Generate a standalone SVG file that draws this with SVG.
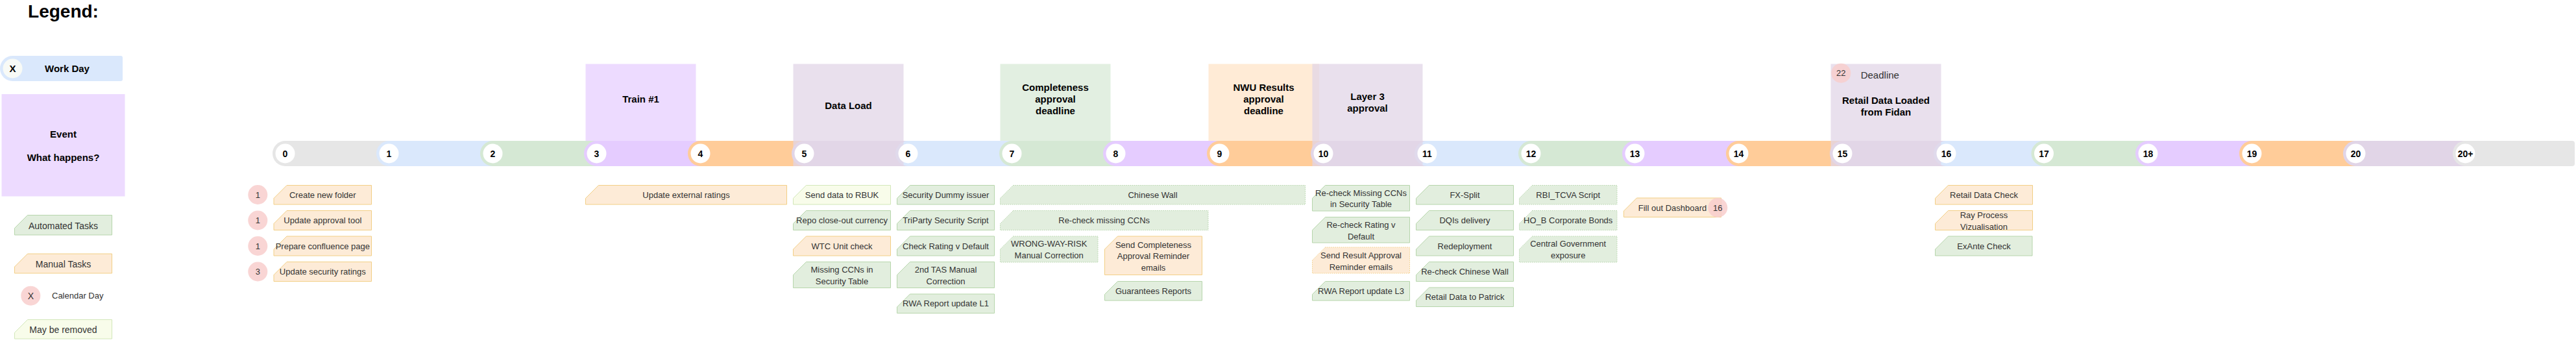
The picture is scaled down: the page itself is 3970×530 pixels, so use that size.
<svg xmlns="http://www.w3.org/2000/svg" width="3970" height="530" viewBox="0 0 3970 530">
<style>
text{font-family:"Liberation Sans",Arial,Helvetica,sans-serif}
.bg{fill:#ffffff}
.g{fill:#E2EEDE;stroke:#B7D6AC;stroke-width:1}
.o{fill:#FDEBD7;stroke:#F2CF86;stroke-width:1}
.y{fill:#F8FCEA;stroke:#D2E7B9;stroke-width:1}
.dot{stroke-dasharray:1.5 1.5}
.t{font-size:13px;fill:#333333;text-anchor:middle}
.lt{font-size:14px;fill:#333333;text-anchor:middle}
.ev{font-size:15px;font-weight:bold;fill:#000000;text-anchor:middle}
.num{font-size:14px;font-weight:bold;fill:#000000;text-anchor:middle}
.cal{fill:#F8CECC;opacity:0.85}
.calt{font-size:13px;fill:#333333;text-anchor:middle}
.dot-c{fill:#ffffff}
.s-gray{fill:#E6E6E6}.s-blue{fill:#DAE8FC}.s-green{fill:#D5E8D4}.s-lav{fill:#E5CCFF}.s-orange{fill:#FFCC99}.s-purple{fill:#E1D5E7}
.e-lav{fill:#E5CCFF;fill-opacity:0.7}
.e-green{fill:#D5E8D4;fill-opacity:0.7}
.e-orange{fill:#FFE6CC;fill-opacity:0.8}
.e-purple{fill:#E1D5E7;fill-opacity:0.75}
</style>
<rect class="bg" x="0" y="0" width="3970" height="530"/>

<!-- Legend -->
<g id="legend">
  <text x="97.5" y="27" style="font-size:28px;font-weight:bold;fill:#000;text-anchor:middle">Legend:</text>
  <g id="legend-workday">
    <path class="s-blue" d="M19.5,86 H186 Q189,86 189,89 V122 Q189,125 186,125 H19.5 A19.5,19.5 0 0 1 19.5,86 Z"/>
    <circle cx="19.5" cy="105.5" r="15" fill="#F8FAF6"/>
    <text x="19.5" y="111" class="ev">X</text>
    <text x="103.5" y="111" class="ev">Work Day</text>
  </g>
  <g id="legend-event">
    <rect x="2.5" y="145" width="190" height="157.5" class="e-lav"/>
    <text x="97.5" y="212" class="ev">Event</text>
    <text x="97.5" y="247.5" class="ev">What happens?</text>
  </g>
  <g id="legend-automated">
    <path class="g" d="M42.5,331.5 H172.5 V362 H22.5 V351.5 Z"/>
    <text x="97.5" y="352.5" class="lt">Automated Tasks</text>
  </g>
  <g id="legend-manual">
    <path class="o" d="M42.5,391 H172.5 V421 H22.5 V411 Z"/>
    <text x="97.5" y="412" class="lt">Manual Tasks</text>
  </g>
  <g id="legend-calendar">
    <circle class="cal" cx="47.3" cy="455.7" r="15"/>
    <text x="47.3" y="460.5" class="calt" style="font-size:14px">X</text>
    <text x="80" y="460.4" style="font-size:13px;fill:#333">Calendar Day</text>
  </g>
  <g id="legend-removed">
    <path class="y" d="M42.5,492.5 H172.5 V522 H22.5 V512.5 Z"/>
    <text x="97.5" y="512.7" class="lt">May be removed</text>
  </g>
</g>

<!-- Event boxes behind timeline -->
<g id="event-train1"><rect x="902.5" y="98.5" width="170" height="118.5" class="e-lav"/></g>
<g id="event-completeness"><rect x="1541.5" y="98.5" width="170" height="118.5" class="e-green"/></g>
<g id="event-nwu"><rect x="1862.5" y="98.5" width="170.5" height="118.5" class="e-orange"/></g>

<!-- Timeline segments -->
<g id="timeline">
  <path id="seg-0" class="s-gray" d="M439.5,217 H599.5 V256 H439.5 A19.5,19.5 0 0 1 439.5,217 Z"/>
  <path id="seg-1" class="s-blue" d="M599.5,217 H759.5 V256 H599.5 A19.5,19.5 0 0 1 599.5,217 Z"/>
  <path id="seg-2" class="s-green" d="M759.5,217 H919.5 V256 H759.5 A19.5,19.5 0 0 1 759.5,217 Z"/>
  <path id="seg-3" class="s-lav" d="M919.5,217 H1079.5 V256 H919.5 A19.5,19.5 0 0 1 919.5,217 Z"/>
  <path id="seg-4" class="s-orange" d="M1079.5,217 H1239.5 V256 H1079.5 A19.5,19.5 0 0 1 1079.5,217 Z"/>
  <path id="seg-5" class="s-purple" d="M1239.5,217 H1399.5 V256 H1239.5 A19.5,19.5 0 0 1 1239.5,217 Z"/>
  <path id="seg-6" class="s-blue" d="M1399.5,217 H1559.5 V256 H1399.5 A19.5,19.5 0 0 1 1399.5,217 Z"/>
  <path id="seg-7" class="s-green" d="M1559.5,217 H1719.5 V256 H1559.5 A19.5,19.5 0 0 1 1559.5,217 Z"/>
  <path id="seg-8" class="s-lav" d="M1719.5,217 H1879.5 V256 H1719.5 A19.5,19.5 0 0 1 1719.5,217 Z"/>
  <path id="seg-9" class="s-orange" d="M1879.5,217 H2039.5 V256 H1879.5 A19.5,19.5 0 0 1 1879.5,217 Z"/>
  <path id="seg-10" class="s-purple" d="M2039.5,217 H2199.5 V256 H2039.5 A19.5,19.5 0 0 1 2039.5,217 Z"/>
  <path id="seg-11" class="s-blue" d="M2199.5,217 H2359.5 V256 H2199.5 A19.5,19.5 0 0 1 2199.5,217 Z"/>
  <path id="seg-12" class="s-green" d="M2359.5,217 H2519.5 V256 H2359.5 A19.5,19.5 0 0 1 2359.5,217 Z"/>
  <path id="seg-13" class="s-lav" d="M2519.5,217 H2679.5 V256 H2519.5 A19.5,19.5 0 0 1 2519.5,217 Z"/>
  <path id="seg-14" class="s-orange" d="M2679.5,217 H2839.5 V256 H2679.5 A19.5,19.5 0 0 1 2679.5,217 Z"/>
  <path id="seg-15" class="s-purple" d="M2839.5,217 H2999.5 V256 H2839.5 A19.5,19.5 0 0 1 2839.5,217 Z"/>
  <path id="seg-16" class="s-blue" d="M2999.5,217 H3150 V256 H2999.5 A19.5,19.5 0 0 1 2999.5,217 Z"/>
  <path id="seg-17" class="s-green" d="M3150,217 H3310.5 V256 H3150 A19.5,19.5 0 0 1 3150,217 Z"/>
  <path id="seg-18" class="s-lav" d="M3310.5,217 H3470.5 V256 H3310.5 A19.5,19.5 0 0 1 3310.5,217 Z"/>
  <path id="seg-19" class="s-orange" d="M3470.5,217 H3630.5 V256 H3470.5 A19.5,19.5 0 0 1 3470.5,217 Z"/>
  <path id="seg-20" class="s-purple" d="M3630.5,217 H3799.5 V256 H3630.5 A19.5,19.5 0 0 1 3630.5,217 Z"/>
  <path id="seg-20plus" class="s-gray" d="M3799.5,217 H3964 Q3968,217 3968,221 V252 Q3968,256 3964,256 H3799.5 A19.5,19.5 0 0 1 3799.5,217 Z"/>
</g>

<!-- Event boxes over timeline -->
<g id="event-dataload"><rect x="1222.5" y="98.5" width="170" height="157.5" class="e-purple"/></g>
<g id="event-layer3"><rect x="2022.5" y="98.5" width="170" height="157.5" class="e-purple"/></g>
<g id="event-retail"><rect x="2821.5" y="98.5" width="170" height="157.5" class="e-purple"/></g>

<!-- Day circles -->
<g id="day-markers">
  <g id="day-0"><circle class="dot-c" cx="439.5" cy="236.5" r="15"/><text x="439.5" y="241.5" class="num">0</text></g>
  <g id="day-1"><circle class="dot-c" cx="599.5" cy="236.5" r="15"/><text x="599.5" y="241.5" class="num">1</text></g>
  <g id="day-2"><circle class="dot-c" cx="759.5" cy="236.5" r="15"/><text x="759.5" y="241.5" class="num">2</text></g>
  <g id="day-3"><circle class="dot-c" cx="919.5" cy="236.5" r="15"/><text x="919.5" y="241.5" class="num">3</text></g>
  <g id="day-4"><circle class="dot-c" cx="1079.5" cy="236.5" r="15"/><text x="1079.5" y="241.5" class="num">4</text></g>
  <g id="day-5"><circle class="dot-c" cx="1239.5" cy="236.5" r="15"/><text x="1239.5" y="241.5" class="num">5</text></g>
  <g id="day-6"><circle class="dot-c" cx="1399.5" cy="236.5" r="15"/><text x="1399.5" y="241.5" class="num">6</text></g>
  <g id="day-7"><circle class="dot-c" cx="1559.5" cy="236.5" r="15"/><text x="1559.5" y="241.5" class="num">7</text></g>
  <g id="day-8"><circle class="dot-c" cx="1719.5" cy="236.5" r="15"/><text x="1719.5" y="241.5" class="num">8</text></g>
  <g id="day-9"><circle class="dot-c" cx="1879.5" cy="236.5" r="15"/><text x="1879.5" y="241.5" class="num">9</text></g>
  <g id="day-10"><circle class="dot-c" cx="2039.5" cy="236.5" r="15"/><text x="2039.5" y="241.5" class="num">10</text></g>
  <g id="day-11"><circle class="dot-c" cx="2199.5" cy="236.5" r="15"/><text x="2199.5" y="241.5" class="num">11</text></g>
  <g id="day-12"><circle class="dot-c" cx="2359.5" cy="236.5" r="15"/><text x="2359.5" y="241.5" class="num">12</text></g>
  <g id="day-13"><circle class="dot-c" cx="2519.5" cy="236.5" r="15"/><text x="2519.5" y="241.5" class="num">13</text></g>
  <g id="day-14"><circle class="dot-c" cx="2679.5" cy="236.5" r="15"/><text x="2679.5" y="241.5" class="num">14</text></g>
  <g id="day-15"><circle class="dot-c" cx="2839.5" cy="236.5" r="15"/><text x="2839.5" y="241.5" class="num">15</text></g>
  <g id="day-16"><circle class="dot-c" cx="2999.5" cy="236.5" r="15"/><text x="2999.5" y="241.5" class="num">16</text></g>
  <g id="day-17"><circle class="dot-c" cx="3150" cy="236.5" r="15"/><text x="3150" y="241.5" class="num">17</text></g>
  <g id="day-18"><circle class="dot-c" cx="3310.5" cy="236.5" r="15"/><text x="3310.5" y="241.5" class="num">18</text></g>
  <g id="day-19"><circle class="dot-c" cx="3470.5" cy="236.5" r="15"/><text x="3470.5" y="241.5" class="num">19</text></g>
  <g id="day-20"><circle class="dot-c" cx="3630.5" cy="236.5" r="15"/><text x="3630.5" y="241.5" class="num">20</text></g>
  <g id="day-20plus"><circle class="dot-c" cx="3799.5" cy="236.5" r="15"/><text x="3799.5" y="241.5" class="num">20+</text></g>
</g>

<!-- Event labels -->
<g id="event-labels">
  <text x="987.5" y="158" class="ev">Train #1</text>
  <text x="1307.5" y="167.7" class="ev">Data Load</text>
  <text x="1626.5" y="140.4" class="ev">Completeness</text>
  <text x="1626.5" y="158" class="ev">approval</text>
  <text x="1626.5" y="176" class="ev">deadline</text>
  <text x="1947.5" y="140.4" class="ev">NWU Results</text>
  <text x="1947.5" y="158" class="ev">approval</text>
  <text x="1947.5" y="176" class="ev">deadline</text>
  <text x="2107.5" y="154" class="ev">Layer 3</text>
  <text x="2107.5" y="171.7" class="ev">approval</text>
  <circle class="cal" cx="2837.3" cy="112.7" r="15"/>
  <text x="2837.3" y="117.3" class="calt">22</text>
  <text x="2897.3" y="121.4" style="font-size:15px;fill:#333;text-anchor:middle">Deadline</text>
  <text x="2906.5" y="160.4" class="ev">Retail Data Loaded</text>
  <text x="2906.5" y="178" class="ev">from Fidan</text>
</g>

<!-- Tasks: day 0 -->
<g id="task-create-folder"><circle class="cal" cx="397.3" cy="300" r="15"/><text x="397.3" y="304.5" class="calt">1</text><path class="o" d="M442,285.5 H572.5 V315 H422 V305.5 Z"/><text x="497.3" y="305" class="t">Create new folder</text></g>
<g id="task-update-approval"><circle class="cal" cx="397.3" cy="339.5" r="15"/><text x="397.3" y="344" class="calt">1</text><path class="o" d="M442,324.5 H572.5 V354.5 H422 V344.5 Z"/><text x="497.3" y="344" class="t">Update approval tool</text></g>
<g id="task-confluence"><circle class="cal" cx="397.3" cy="379" r="15"/><text x="397.3" y="383.5" class="calt">1</text><path class="o" d="M442,364 H572.5 V394 H422 V384 Z"/><text x="497.3" y="383.6" class="t">Prepare confluence page</text></g>
<g id="task-security-ratings"><circle class="cal" cx="397.3" cy="418.5" r="15"/><text x="397.3" y="423" class="calt">3</text><path class="o" d="M442,403.5 H572.5 V433.5 H422 V423.5 Z"/><text x="497.3" y="423" class="t">Update security ratings</text></g>

<!-- day 3 -->
<g id="task-external-ratings"><path class="o" d="M922.5,285.5 H1212.5 V315 H902.5 V305.5 Z"/><text x="1057.5" y="305" class="t">Update external ratings</text></g>

<!-- day 5 -->
<g id="task-send-rbuk"><path class="y" d="M1242.5,285.5 H1372.5 V315 H1222.5 V305.5 Z"/><text x="1297.5" y="305" class="t">Send data to RBUK</text></g>
<g id="task-repo"><path class="g" d="M1242.5,324.5 H1372.5 V354.5 H1222.5 V344.5 Z"/><text x="1297.5" y="344" class="t">Repo close-out currency</text></g>
<g id="task-wtc"><path class="o" d="M1242.5,364 H1372.5 V394 H1222.5 V384 Z"/><text x="1297.5" y="383.6" class="t">WTC Unit check</text></g>
<g id="task-missing-ccns"><path class="g" d="M1242.5,403.5 H1372.5 V443.5 H1222.5 V423.5 Z"/><text x="1297.5" y="420.4" class="t">Missing CCNs in</text><text x="1297.5" y="438" class="t">Security Table</text></g>

<!-- day 6 -->
<g id="task-dummy-issuer"><path class="g" d="M1402.5,285.5 H1532.5 V315 H1382.5 V305.5 Z"/><text x="1457.5" y="305" class="t">Security Dummy issuer</text></g>
<g id="task-triparty"><path class="g" d="M1402.5,324.5 H1532.5 V354.5 H1382.5 V344.5 Z"/><text x="1457.5" y="344" class="t">TriParty Security Script</text></g>
<g id="task-check-rating"><path class="g" d="M1402.5,364 H1532.5 V394 H1382.5 V384 Z"/><text x="1457.5" y="383.6" class="t">Check Rating v Default</text></g>
<g id="task-2nd-tas"><path class="g" d="M1402.5,403.5 H1532.5 V443.5 H1382.5 V423.5 Z"/><text x="1457.5" y="420.4" class="t">2nd TAS Manual</text><text x="1457.5" y="438" class="t">Correction</text></g>
<g id="task-rwa-l1"><path class="g" d="M1402.5,453 H1532.5 V482.5 H1382.5 V473 Z"/><text x="1457.5" y="472.4" class="t">RWA Report update L1</text></g>

<!-- day 7 -->
<g id="task-chinese-wall"><path class="g dot" d="M1561.5,285.5 H2011.5 V315 H1541.5 V305.5 Z"/><text x="1776.5" y="305" class="t">Chinese Wall</text></g>
<g id="task-recheck-ccns"><path class="g dot" d="M1561.5,324.5 H1862 V354.5 H1541.5 V344.5 Z"/><text x="1701.7" y="344" class="t">Re-check missing CCNs</text></g>
<g id="task-wwr"><path class="g dot" d="M1561.5,364 H1692 V404 H1541.5 V384 Z"/><text x="1616.7" y="380.4" class="t">WRONG-WAY-RISK</text><text x="1616.7" y="398.4" class="t">Manual Correction</text></g>
<g id="task-completeness-emails"><path class="o" d="M1722.5,364 H1852.5 V423.5 H1702.5 V384 Z"/><text x="1777.5" y="381.7" class="t">Send Completeness</text><text x="1777.5" y="399.4" class="t">Approval Reminder</text><text x="1777.5" y="417.2" class="t">emails</text></g>
<g id="task-guarantees"><path class="g" d="M1722.5,433.5 H1852.5 V463 H1702.5 V453.5 Z"/><text x="1777.5" y="452.8" class="t">Guarantees Reports</text></g>

<!-- day 10 -->
<g id="task-recheck-missing-ccns"><path class="g" d="M2042.5,285.5 H2172.5 V325 H2022.5 V305.5 Z"/><text x="2097.5" y="301.7" class="t">Re-check Missing CCNs</text><text x="2097.5" y="319.4" class="t">in Security Table</text></g>
<g id="task-recheck-rating"><path class="g" d="M2042.5,334.5 H2172.5 V374 H2022.5 V354.5 Z"/><text x="2097.5" y="351" class="t">Re-check Rating v</text><text x="2097.5" y="368.7" class="t">Default</text></g>
<g id="task-result-emails"><path class="o dot" d="M2042.5,381 H2172.5 V421 H2022.5 V401 Z"/><text x="2097.5" y="398.4" class="t">Send Result Approval</text><text x="2097.5" y="416.4" class="t">Reminder emails</text></g>
<g id="task-rwa-l3"><path class="g" d="M2042.5,433.5 H2172.5 V463 H2022.5 V453.5 Z"/><text x="2097.5" y="452.8" class="t">RWA Report update L3</text></g>

<!-- day 11 -->
<g id="task-fx-split"><path class="g" d="M2202.5,285.5 H2332.5 V315 H2182.5 V305.5 Z"/><text x="2257.5" y="305" class="t">FX-Split</text></g>
<g id="task-dqis"><path class="g" d="M2202.5,324.5 H2332.5 V354.5 H2182.5 V344.5 Z"/><text x="2257.5" y="344" class="t">DQIs delivery</text></g>
<g id="task-redeployment"><path class="g" d="M2202.5,364 H2332.5 V394 H2182.5 V384 Z"/><text x="2257.5" y="383.6" class="t">Redeployment</text></g>
<g id="task-recheck-chinese-wall"><path class="g" d="M2202.5,403.5 H2332.5 V433.5 H2182.5 V423.5 Z"/><text x="2257.5" y="423" class="t">Re-check Chinese Wall</text></g>
<g id="task-retail-patrick"><path class="g" d="M2202.5,443 H2332.5 V472.5 H2182.5 V463 Z"/><text x="2257.5" y="462.4" class="t">Retail Data to Patrick</text></g>

<!-- day 12 -->
<g id="task-rbi-tcva"><path class="g dot" d="M2361.5,285.5 H2492 V315 H2341.5 V305.5 Z"/><text x="2416.7" y="305" class="t">RBI_TCVA Script</text></g>
<g id="task-hob"><path class="g dot" d="M2361.5,324.5 H2492 V354.5 H2341.5 V344.5 Z"/><text x="2416.7" y="344" class="t">HO_B Corporate Bonds</text></g>
<g id="task-central-gov"><path class="g dot" d="M2361.5,364 H2492 V404 H2341.5 V384 Z"/><text x="2416.7" y="380.4" class="t">Central Government</text><text x="2416.7" y="398.4" class="t">exposure</text></g>

<!-- day 13 -->
<g id="task-dashboard"><path class="o" d="M2522.5,305 H2652.5 V334.5 H2502.5 V325 Z"/><text x="2577.5" y="325.3" class="t">Fill out Dashboard</text><circle class="cal" cx="2647.3" cy="320" r="15"/><text x="2647.3" y="324.5" class="calt">16</text></g>

<!-- day 16 -->
<g id="task-retail-check"><path class="o" d="M3002.5,285.5 H3132.5 V315 H2982.5 V305.5 Z"/><text x="3057.5" y="305" class="t">Retail Data Check</text></g>
<g id="task-ray"><path class="o" d="M3002.5,324.5 H3132.5 V354.5 H2982.5 V344.5 Z"/><text x="3057.5" y="336.4" class="t">Ray Process</text><text x="3057.5" y="354" class="t">Vizualisation</text></g>
<g id="task-exante"><path class="g" d="M3002.5,364 H3132 V394 H2982.5 V384 Z"/><text x="3057.5" y="383.6" class="t">ExAnte Check</text></g>

<g id="connectors"></g>
</svg>
